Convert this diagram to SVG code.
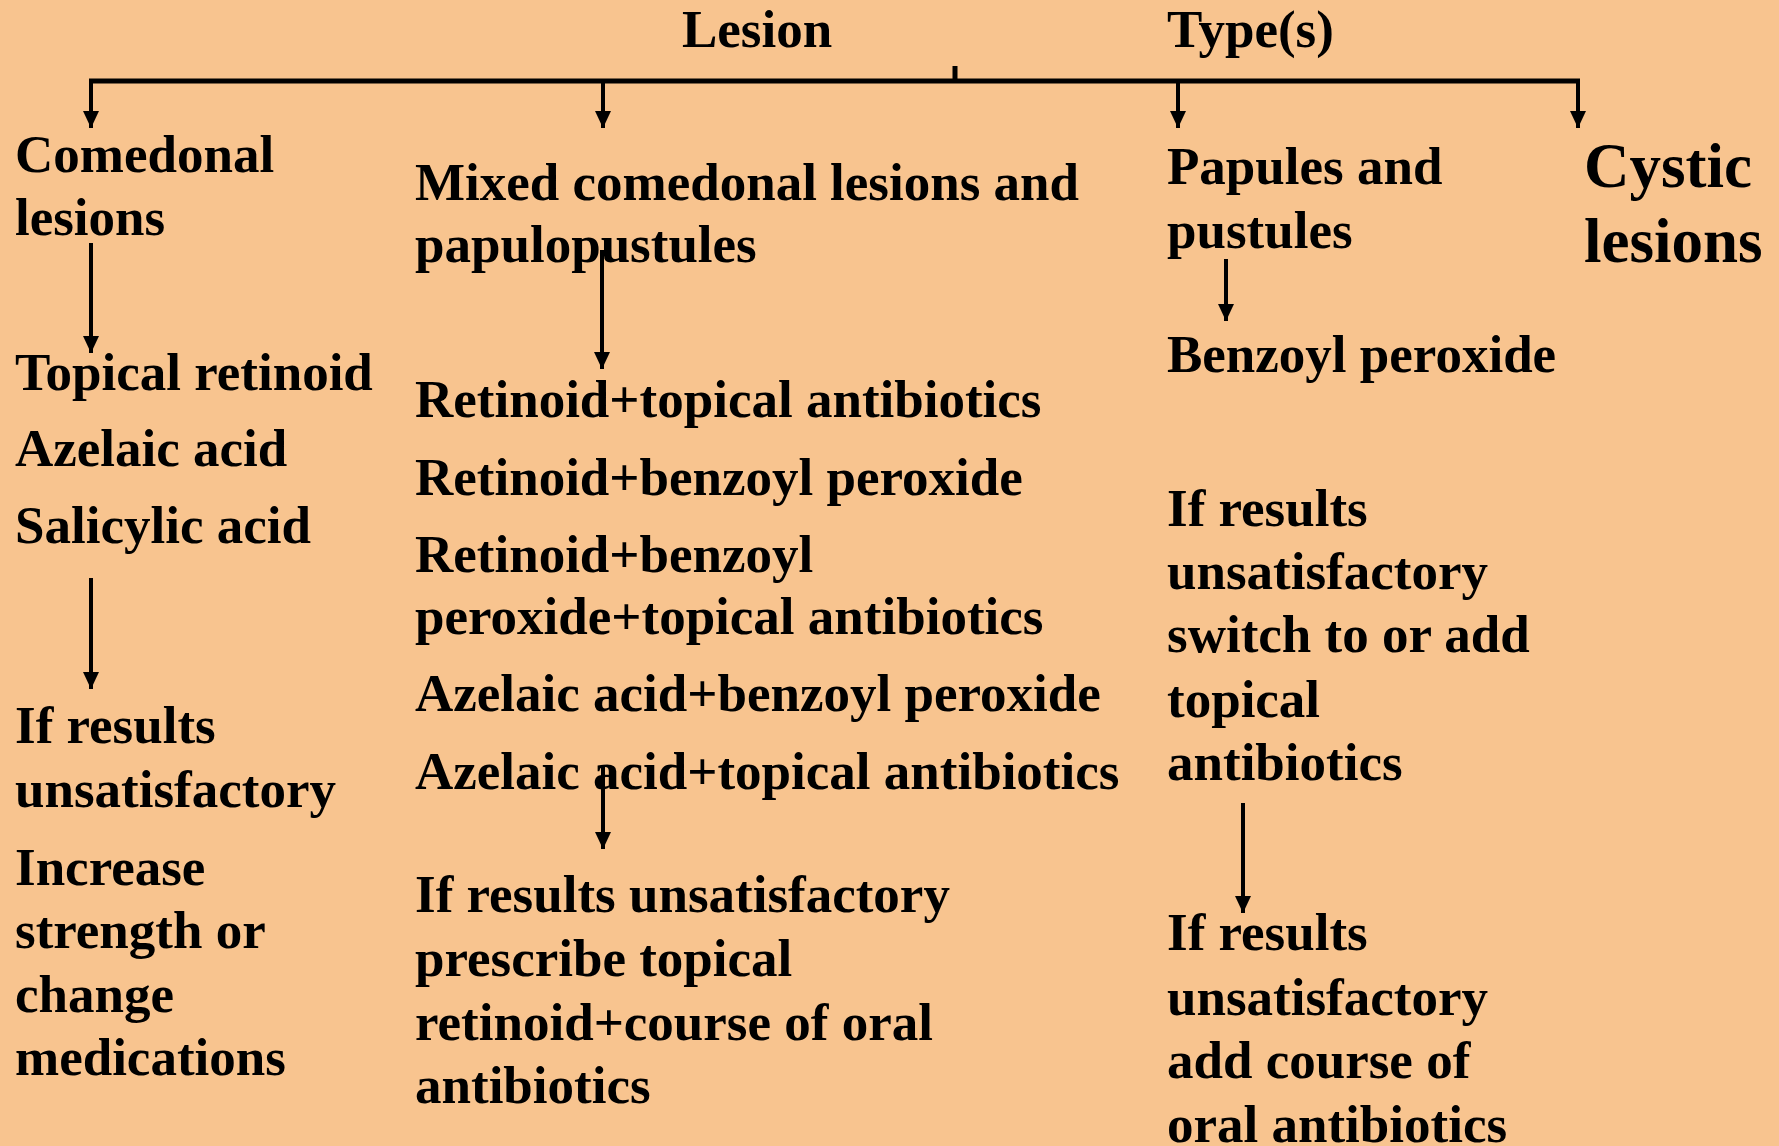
<svg xmlns="http://www.w3.org/2000/svg" width="1779" height="1146" viewBox="0 0 1779 1146">
<defs>
<style>
text{font-family:"Liberation Serif","Times New Roman",serif;font-weight:bold;font-size:53px;fill:#000}
.big{font-size:63px}
.ln{stroke:#000;stroke-width:4;fill:none}
.bar{stroke:#000;stroke-width:5;fill:none}
</style>
<marker id="ah" markerUnits="userSpaceOnUse" markerWidth="18" markerHeight="18" viewBox="0 0 18 18" refX="17" refY="9" orient="auto">
<path d="M0,1 L17,9 L0,17 Z" fill="#000"/>
</marker>
</defs>
<rect width="1779" height="1146" fill="#F8C48F"/>
<g id="connectors">
<path class="bar" d="M89,81 H1580"/>
<path class="bar" d="M955,66 V81"/>
<path class="ln" d="M91,81 V128" marker-end="url(#ah)"/>
<path class="ln" d="M603,81 V128" marker-end="url(#ah)"/>
<path class="ln" d="M1178,81 V128" marker-end="url(#ah)"/>
<path class="ln" d="M1578,81 V128" marker-end="url(#ah)"/>
<path class="ln" d="M91,243 V353" marker-end="url(#ah)"/>
<path class="ln" d="M91,578 V689" marker-end="url(#ah)"/>
<path class="ln" d="M602,250 V369" marker-end="url(#ah)"/>
<path class="ln" d="M603,767 V849" marker-end="url(#ah)"/>
<path class="ln" d="M1226,259 V321" marker-end="url(#ah)"/>
<path class="ln" d="M1243,803 V913" marker-end="url(#ah)"/>
</g>
<g id="title-lesion"><text x="682" y="47">Lesion</text></g>
<g id="title-types"><text x="1167" y="47">Type(s)</text></g>
<g id="comedonal">
<text x="15" y="172">Comedonal</text>
<text x="15" y="235">lesions</text>
</g>
<g id="comedonal-treat">
<text x="15" y="390">Topical retinoid</text>
<text x="15" y="466">Azelaic acid</text>
<text x="15" y="543">Salicylic acid</text>
</g>
<g id="comedonal-next">
<text x="15" y="743">If results</text>
<text x="15" y="807">unsatisfactory</text>
<text x="15" y="885">Increase</text>
<text x="15" y="948">strength or</text>
<text x="15" y="1012">change</text>
<text x="15" y="1075">medications</text>
</g>
<g id="mixed">
<text x="415" y="200">Mixed comedonal lesions and</text>
<text x="415" y="262">papulopustules</text>
</g>
<g id="mixed-treat">
<text x="415" y="417">Retinoid+topical antibiotics</text>
<text x="415" y="495">Retinoid+benzoyl peroxide</text>
<text x="415" y="572">Retinoid+benzoyl</text>
<text x="415" y="634">peroxide+topical antibiotics</text>
<text x="415" y="711">Azelaic acid+benzoyl peroxide</text>
<text x="415" y="789">Azelaic acid+topical antibiotics</text>
</g>
<g id="mixed-next">
<text x="415" y="912">If results unsatisfactory</text>
<text x="415" y="976">prescribe topical</text>
<text x="415" y="1040">retinoid+course of oral</text>
<text x="415" y="1103">antibiotics</text>
</g>
<g id="papules">
<text x="1167" y="184">Papules and</text>
<text x="1167" y="248">pustules</text>
</g>
<g id="papules-treat"><text x="1167" y="372">Benzoyl peroxide</text></g>
<g id="papules-next1">
<text x="1167" y="526">If results</text>
<text x="1167" y="589">unsatisfactory</text>
<text x="1167" y="652">switch to or add</text>
<text x="1167" y="717">topical</text>
<text x="1167" y="780">antibiotics</text>
</g>
<g id="papules-next2">
<text x="1167" y="950">If results</text>
<text x="1167" y="1015">unsatisfactory</text>
<text x="1167" y="1078">add course of</text>
<text x="1167" y="1142">oral antibiotics</text>
</g>
<g id="cystic">
<text class="big" x="1584" y="187">Cystic</text>
<text class="big" x="1584" y="262">lesions</text>
</g>
</svg>
